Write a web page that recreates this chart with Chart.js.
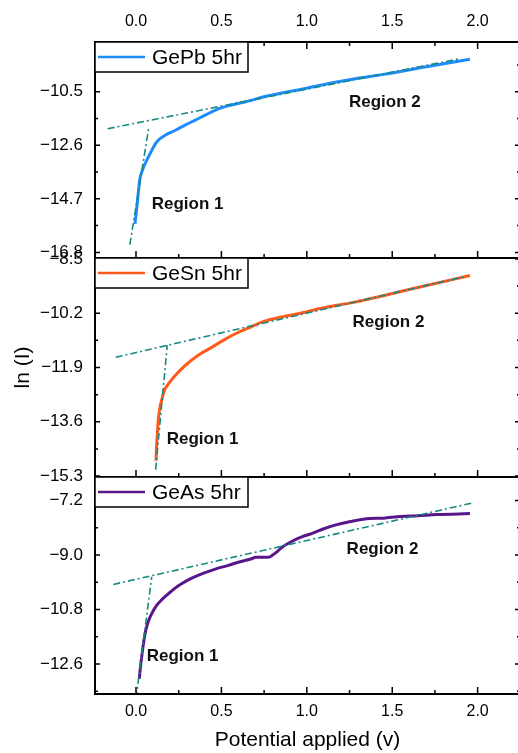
<!DOCTYPE html>
<html>
<head>
<meta charset="utf-8">
<script src="https://cdn.jsdelivr.net/npm/chart.js@4.4.1/dist/chart.umd.min.js"></script>
<style>
  html, body { margin: 0; padding: 0; background: #fff; overflow: hidden; }
  #wrap { position: relative; width: 518px; height: 753px; overflow: hidden; }
  canvas { position: absolute; left: 0; top: 0; }
</style>
</head>
<body>
<div id="wrap">
  <canvas id="pb" width="522" height="753"></canvas>
  <canvas id="sn" width="522" height="753"></canvas>
  <canvas id="as" width="522" height="753"></canvas>
</div>
<script>
Chart.defaults.font.family = "'Liberation Sans', Arial, sans-serif";
Chart.defaults.color = '#000';

// shared potential axis (V)
const xTicks = [0.0, 0.5, 1.0, 1.5, 2.0];
const xMin = -0.24, xMax = 2.248;

// GePb 5hr
const gePbV = [-0.006, 0.004, 0.01, 0.018, 0.023, 0.037, 0.053, 0.082, 0.121, 0.17, 0.228, 0.29, 0.345,
  0.41, 0.482, 0.56, 0.638, 0.775, 0.97, 1.13, 1.282, 1.447, 1.7, 1.955];
const gePbLnI = [-15.68, -15.09, -14.7, -14.17, -13.91, -13.59, -13.33, -12.93, -12.47, -12.21, -12.02, -11.8, -11.62,
  -11.4, -11.17, -11.02, -10.9, -10.66, -10.4, -10.18, -9.99, -9.82, -9.52, -9.23];
const gePbFit1V = [-0.036, 0.076], gePbFit1 = [-16.5, -11.86];
const gePbFit2V = [-0.166, 1.9], gePbFit2 = [-11.95, -9.2];
const gePbTicks = [-16.8, -14.7, -12.6, -10.5];

// GeSn 5hr
const geSnV = [0.117, 0.121, 0.126, 0.131, 0.142, 0.152, 0.165, 0.185, 0.235, 0.287, 0.36, 0.443, 0.51,
  0.579, 0.66, 0.736, 0.85, 0.97, 1.1, 1.272, 1.447, 1.7, 1.955];
const geSnLnI = [-14.82, -14.3, -13.9, -13.51, -13.1, -12.89, -12.63, -12.45, -12.12, -11.84, -11.53, -11.27, -11.05,
  -10.85, -10.66, -10.48, -10.32, -10.19, -10.03, -9.86, -9.65, -9.33, -9.02];
const geSnFit1V = [0.115, 0.183], geSnFit1 = [-15.1, -11.2];
const geSnFit2V = [-0.119, 1.935], geSnFit2 = [-11.58, -9.04];
const geSnTicks = [-15.3, -13.6, -11.9, -10.2, -8.5];

// GeAs 5hr
const geAsV = [0.019, 0.026, 0.033, 0.043, 0.053, 0.066, 0.082, 0.1, 0.121, 0.15, 0.189, 0.227, 0.267, 0.32,
  0.385, 0.46, 0.54, 0.61, 0.677, 0.7, 0.775, 0.8, 0.823, 0.86, 0.911, 0.97, 1.028, 1.1, 1.165, 1.25,
  1.37, 1.45, 1.53, 1.65, 1.76, 1.955];
const geAsLnI = [-13.09, -12.7, -12.37, -11.95, -11.6, -11.3, -11.05, -10.85, -10.66, -10.48, -10.28, -10.1, -9.95, -9.78,
  -9.62, -9.47, -9.34, -9.22, -9.12, -9.07, -9.07, -9.0, -8.9, -8.72, -8.55, -8.4, -8.29, -8.13, -8.01, -7.9,
  -7.79, -7.78, -7.73, -7.7, -7.66, -7.63];
const geAsFit1V = [0.0, 0.092], geAsFit1 = [-13.75, -9.72];
const geAsFit2V = [-0.133, 1.975], geAsFit2 = [-9.97, -7.27];
const geAsTicks = [-12.6, -10.8, -9.0, -7.2];

const fitColor = '#168a80';
const pts = (xs, ys) => xs.map((x, i) => ({ x, y: ys[i] }));
const fmt = v => (v < 0 ? '\u2212' : '') + Math.abs(v).toFixed(1);

// box, inward ticks, legend and region notes for one panel
const panelFrame = {
  id: 'panelFrame',
  afterDraw(chart, args, o) {
    const { ctx, chartArea: a } = chart;
    const xs = chart.scales.x, ys = chart.scales.y;
    ctx.save();
    ctx.strokeStyle = '#000';
    ctx.lineWidth = 1.5;
    ctx.beginPath();
    const xStep = (xTicks[1] - xTicks[0]) / 2;
    for (let i = -1; i < 20; i++) {
      const v = xTicks[0] + i * xStep;
      if (v < xs.min || v > xs.max) continue;
      const px = xs.getPixelForValue(v);
      const len = i % 2 === 0 ? 7 : 4;
      ctx.moveTo(px, a.bottom); ctx.lineTo(px, a.bottom - len);
      if (o.topTicks) { ctx.moveTo(px, a.top); ctx.lineTo(px, a.top + len); }
    }
    const yt = o.yTicks, yStep = (yt[1] - yt[0]) / 2;
    for (let i = -1; i <= yt.length * 2; i++) {
      const v = yt[0] + i * yStep;
      if (v < ys.min || v > ys.max) continue;
      const py = ys.getPixelForValue(v);
      const len = i % 2 === 0 ? 5 : 3;
      ctx.moveTo(a.left, py); ctx.lineTo(a.left + len, py);
      ctx.moveTo(a.right, py); ctx.lineTo(a.right - len, py);
    }
    ctx.stroke();
    ctx.lineWidth = 2;
    ctx.strokeRect(a.left, a.top, a.right - a.left, a.bottom - a.top);

    // legend
    const ds = chart.data.datasets[0];
    ctx.fillStyle = '#fff';
    ctx.fillRect(a.left, a.top, 153, 30);
    ctx.lineWidth = 1.5;
    ctx.strokeRect(a.left, a.top, 153, 30);
    ctx.strokeStyle = ds.borderColor;
    ctx.lineWidth = 2.5;
    ctx.beginPath();
    ctx.moveTo(a.left + 3, a.top + 15); ctx.lineTo(a.left + 50, a.top + 15);
    ctx.stroke();
    ctx.fillStyle = '#000';
    ctx.font = "21px 'Liberation Sans', Arial, sans-serif";
    ctx.textBaseline = 'middle';
    ctx.fillText(ds.label, a.left + 57, a.top + 16);

    ctx.font = "bold 17px 'Liberation Sans', Arial, sans-serif";
    ctx.fillStyle = '#111';
    o.notes.forEach(n => {
      ctx.fillText(n.text, xs.getPixelForValue(n.x), ys.getPixelForValue(n.y));
    });
    ctx.restore();
  }
};

function makePanel(id, p) {
  const datasets = [
    { label: p.label, data: pts(p.v, p.lnI), borderColor: p.color, borderWidth: 3, order: 1,
      cubicInterpolationMode: 'monotone' },
    ...p.fits.map(f => ({ label: 'fit', data: f, borderColor: fitColor, borderWidth: 1.6,
      borderDash: [7, 3, 2, 3], order: 0 }))
  ];
  return new Chart(document.getElementById(id), {
    type: 'scatter',
    data: { datasets },
    options: {
      responsive: false,
      devicePixelRatio: 1,
      animation: false,
      showLine: true,
      elements: { point: { radius: 0 } },
      layout: { padding: { top: p.padTop, bottom: p.padBottom, left: 0, right: 2 } },
      scales: {
        x: {
          type: 'linear', min: xMin, max: xMax,
          display: !!p.xPos, position: p.xPos || 'bottom',
          grid: { display: false, drawTicks: false }, border: { display: false },
          ticks: { padding: p.xPos === 'top' ? 11 : 8, font: { size: 16 }, autoSkip: false, callback: fmt },
          afterBuildTicks: s => { s.ticks = xTicks.map(value => ({ value })); },
          afterFit: s => { if (p.xHeight) s.height = p.xHeight; },
          title: { display: !!p.xTitle, text: p.xTitle || '', font: { size: 21 }, padding: { top: 0, bottom: 0 } }
        },
        y: {
          min: p.yMin, max: p.yMax,
          grid: { display: false, drawTicks: false }, border: { display: false },
          ticks: { padding: 12, font: { size: 17 }, autoSkip: false, callback: fmt },
          afterBuildTicks: s => { s.ticks = p.yTicks.map(value => ({ value })); },
          afterFit: s => { s.width = 95; },
          title: { display: !!p.yTitle, text: p.yTitle || '', font: { size: 21 }, padding: { top: 11, bottom: 0 } }
        }
      },
      plugins: {
        legend: { display: false },
        tooltip: { enabled: false },
        panelFrame: { topTicks: p.xPos === 'top', yTicks: p.yTicks, notes: p.notes }
      }
    },
    plugins: [panelFrame]
  });
}

makePanel('pb', {
  label: 'GePb 5hr', color: '#1e8cff', v: gePbV, lnI: gePbLnI,
  fits: [pts(gePbFit1V, gePbFit1), pts(gePbFit2V, gePbFit2)],
  yMin: -17.02, yMax: -8.55, yTicks: gePbTicks,
  padTop: 0, padBottom: 495, xPos: 'top', xHeight: 42,
  notes: [{ text: 'Region 1', x: 0.092, y: -14.92 }, { text: 'Region 2', x: 1.247, y: -10.93 }]
});

makePanel('sn', {
  label: 'GeSn 5hr', color: '#ff5a1a', v: geSnV, lnI: geSnLnI,
  fits: [pts(geSnFit1V, geSnFit1), pts(geSnFit2V, geSnFit2)],
  yMin: -15.33, yMax: -8.47, yTicks: geSnTicks,
  padTop: 258, padBottom: 276, yTitle: 'ln (I)',
  notes: [{ text: 'Region 1', x: 0.18, y: -14.14 }, { text: 'Region 2', x: 1.268, y: -10.5 }]
});

makePanel('as', {
  label: 'GeAs 5hr', color: '#58168a', v: geAsV, lnI: geAsLnI,
  fits: [pts(geAsFit1V, geAsFit1), pts(geAsFit2V, geAsFit2)],
  yMin: -13.59, yMax: -6.42, yTicks: geAsTicks,
  padTop: 477, padBottom: 0, xPos: 'bottom', xHeight: 59, xTitle: 'Potential applied (v)',
  notes: [{ text: 'Region 1', x: 0.063, y: -12.36 }, { text: 'Region 2', x: 1.233, y: -8.8 }]
});
</script>
</body>
</html>
